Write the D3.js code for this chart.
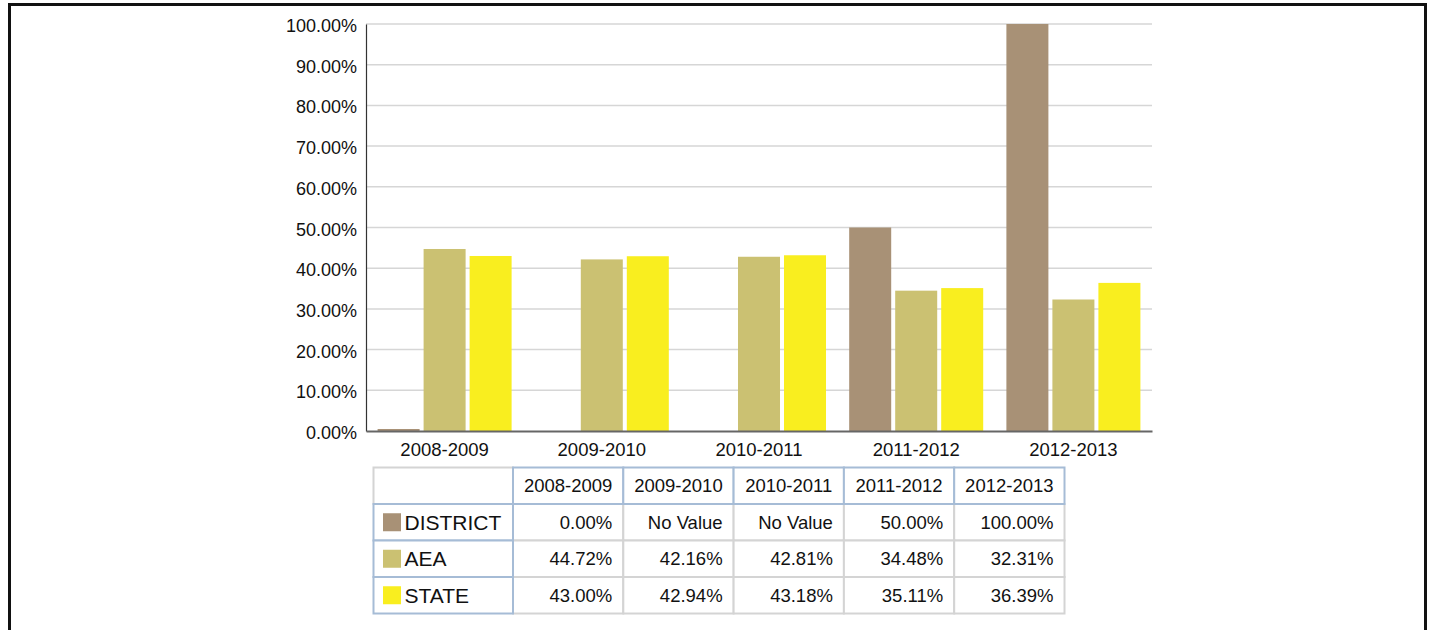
<!DOCTYPE html>
<html>
<head>
<meta charset="utf-8">
<script src="https://cdn.jsdelivr.net/npm/d3@7"></script>
<style>
  html, body { margin: 0; padding: 0; background: #fff; }
  svg { display: block; font-family: "Liberation Sans", Arial, sans-serif; }
</style>
</head>
<body>
<svg id="chart" width="1432" height="630"></svg>
<script>
// ---- data ----
const years = ["2008-2009", "2009-2010", "2010-2011", "2011-2012", "2012-2013"];
const seriesNames = ["DISTRICT", "AEA", "STATE"];
const districtValues = [0.00, null, null, 50.00, 100.00];
const aeaValues = [44.72, 42.16, 42.81, 34.48, 32.31];
const stateValues = [43.00, 42.94, 43.18, 35.11, 36.39];
const yTicks = [0, 10, 20, 30, 40, 50, 60, 70, 80, 90, 100];
const seriesColors = ["#a89176", "#cbc172", "#f9ee1f"];

const seriesValues = [districtValues, aeaValues, stateValues];

// ---- layout ----
const svg = d3.select("#chart");
const W = 1432, H = 630;
const plot = { left: 366, right: 1152, top: 24, bottom: 431 };
const fontSize = 18.5;

// outer frame
svg.append("rect")
  .attr("x", 9.5).attr("y", 4.5)
  .attr("width", 1416).attr("height", 640)
  .attr("fill", "none").attr("stroke", "#111").attr("stroke-width", 3);

const x = d3.scaleBand().domain(years).range([plot.left, plot.right]).padding(0);
const xs = d3.scaleBand().domain(seriesNames).range([0, x.bandwidth()])
  .paddingInner(4 / 46).paddingOuter(0.252);
const y = d3.scaleLinear().domain([0, 100]).range([plot.bottom, plot.top]);

// gridlines
svg.append("g").selectAll("line")
  .data(yTicks.filter(d => d > 0))
  .join("line")
  .attr("x1", plot.left).attr("x2", plot.right)
  .attr("y1", d => y(d)).attr("y2", d => y(d))
  .attr("stroke", "#d6d6d6").attr("stroke-width", 1.5);

// y axis
const yAxis = d3.axisLeft(y).tickValues(yTicks).tickSize(0).tickPadding(9)
  .tickFormat(d => d.toFixed(2) + "%");
const gy = svg.append("g").attr("transform", `translate(${plot.left},0)`).call(yAxis);
gy.select(".domain").attr("stroke", "#333").attr("stroke-width", 1.2);
gy.selectAll("text").attr("font-size", 18).attr("fill", "#111")
  .attr("font-family", "'Liberation Sans', Arial, sans-serif")
  .attr("dy", "0.42em");

// bars
const barData = [];
years.forEach((yr, i) => {
  seriesNames.forEach((s, j) => {
    const v = seriesValues[j][i];
    if (v !== null) barData.push({ yr, s, v, c: seriesColors[j] });
  });
});
svg.append("g").selectAll("rect")
  .data(barData)
  .join("rect")
  .attr("x", d => x(d.yr) + xs(d.s))
  .attr("width", xs.bandwidth())
  .attr("y", d => Math.min(y(d.v), plot.bottom - 2))
  .attr("height", d => Math.max(plot.bottom - y(d.v), 2))
  .attr("fill", d => d.c);

// x axis
const xAxis = d3.axisBottom(x).tickSize(0).tickPadding(12);
const gx = svg.append("g").attr("transform", `translate(0,${plot.bottom})`).call(xAxis);
gx.select(".domain").attr("stroke", "#666").attr("stroke-width", 2);
gx.selectAll("text").attr("font-size", fontSize).attr("fill", "#111")
  .attr("font-family", "'Liberation Sans', Arial, sans-serif");

// ---- data table ----
const tableX = 373.5, tableY = 467.5, labelW = 139.5, colW = 110.3, rowH = 36.5;
const blue = "#a6bcd6", grey = "#d4d4d4";
const colX = i => tableX + labelW + i * colW;
const tg = svg.append("g");

// corner cell
tg.append("rect").attr("x", tableX).attr("y", tableY)
  .attr("width", labelW).attr("height", rowH)
  .attr("fill", "#fff").attr("stroke", grey).attr("stroke-width", 2);

// data cells (grey)
seriesNames.forEach((s, j) => {
  years.forEach((yr, i) => {
    const v = seriesValues[j][i];
    tg.append("rect")
      .attr("x", colX(i)).attr("y", tableY + (j + 1) * rowH)
      .attr("width", colW).attr("height", rowH)
      .attr("fill", "#fff").attr("stroke", grey).attr("stroke-width", 2);
    tg.append("text")
      .attr("x", colX(i) + colW - 11).attr("y", tableY + (j + 1) * rowH + rowH / 2)
      .attr("dy", "0.36em").attr("text-anchor", "end")
      .attr("font-size", fontSize).attr("fill", "#111")
      .text(v === null ? "No Value" : v.toFixed(2) + "%");
  });
});

// header cells (blue)
years.forEach((yr, i) => {
  tg.append("rect")
    .attr("x", colX(i)).attr("y", tableY)
    .attr("width", colW).attr("height", rowH)
    .attr("fill", "#fff").attr("stroke", blue).attr("stroke-width", 2);
  tg.append("text")
    .attr("x", colX(i) + colW / 2).attr("y", tableY + rowH / 2)
    .attr("dy", "0.36em").attr("text-anchor", "middle")
    .attr("font-size", fontSize).attr("fill", "#111")
    .text(yr);
});

// row label cells (blue)
seriesNames.forEach((s, j) => {
  const ry = tableY + (j + 1) * rowH;
  tg.append("rect")
    .attr("x", tableX).attr("y", ry)
    .attr("width", labelW).attr("height", rowH)
    .attr("fill", "#fff").attr("stroke", blue).attr("stroke-width", 2);
  tg.append("rect")
    .attr("x", tableX + 9.5).attr("y", ry + rowH / 2 - 9)
    .attr("width", 18).attr("height", 18)
    .attr("fill", seriesColors[j]);
  tg.append("text")
    .attr("x", tableX + 31).attr("y", ry + rowH / 2)
    .attr("dy", "0.36em")
    .attr("font-size", 21).attr("fill", "#111")
    .text(s);
});
</script>
</body>
</html>
